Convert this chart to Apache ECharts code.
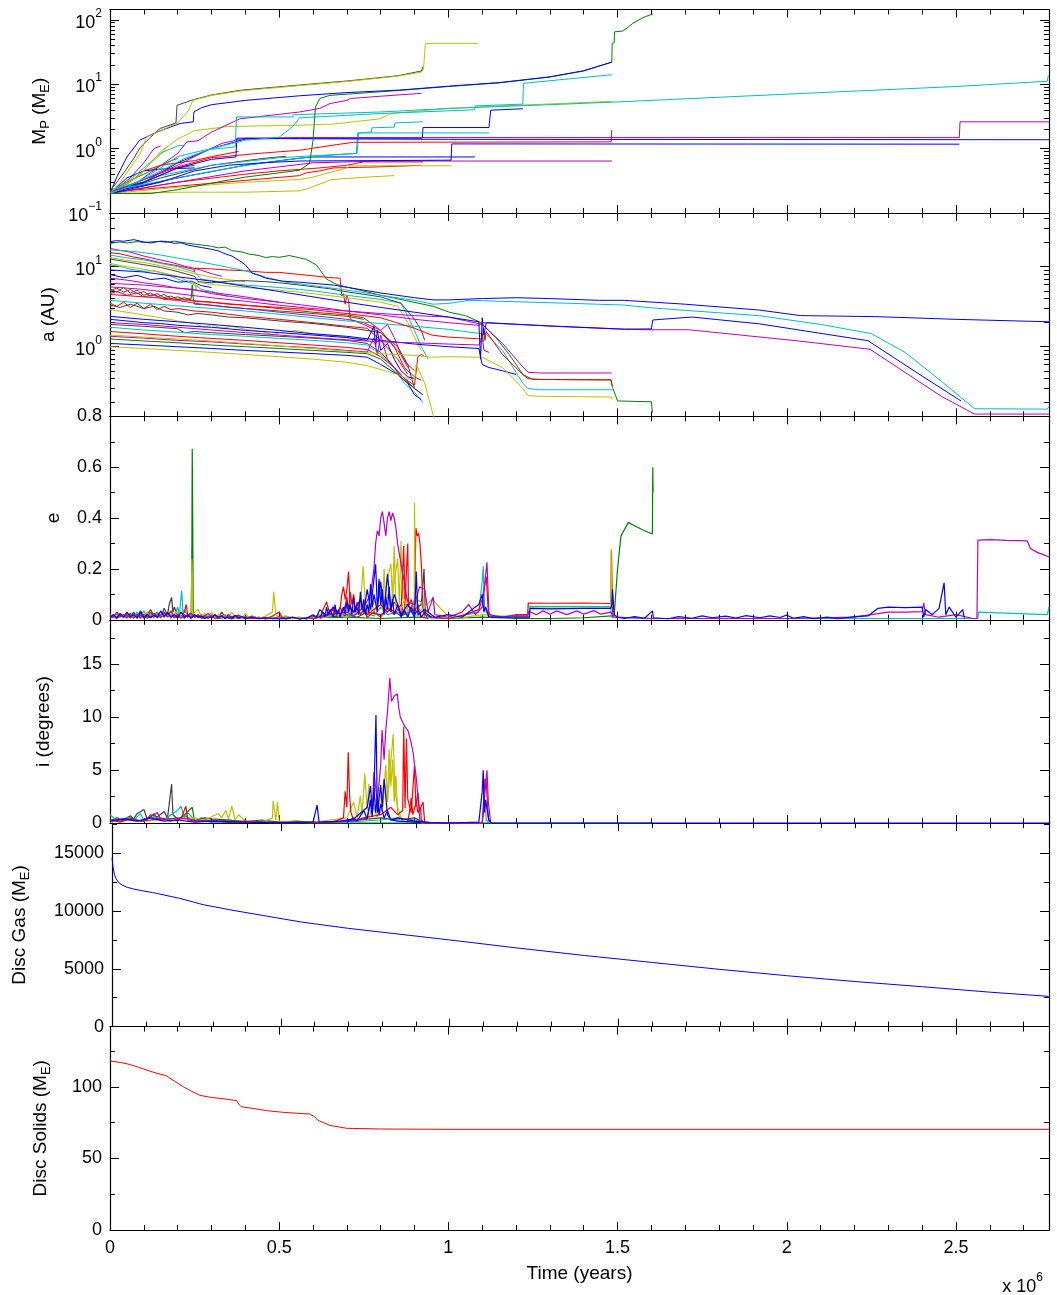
<!DOCTYPE html>
<html>
<head>
<meta charset="utf-8">
<script src="https://cdn.jsdelivr.net/npm/echarts@6/dist/echarts.min.js"></script>
<style>
  html, body { margin: 0; padding: 0; background: #ffffff; }
  #chart { width: 1057px; height: 1295px; }
</style>
</head>
<body>
<div id="chart"></div>
<script>
// Planet formation run: masses, orbits and disc reservoirs against time.
// Time values are in units of 10^6 years; every track is a flat list of (t, value) pairs.

// ---------- axis ticks ----------
const timeMajor = [0, 0.5, 1, 1.5, 2, 2.5];
const timeMinor = [0.1, 0.2, 0.3, 0.4, 0.6, 0.7, 0.8, 0.9, 1.1, 1.2, 1.3, 1.4, 1.6, 1.7, 1.8, 1.9, 2.1, 2.2, 2.3, 2.4, 2.6, 2.7];
const massDecades = [-1, 0, 1, 2];
const orbitDecades = [0, 1];
const eccTicks = [0, 0.2, 0.4, 0.6, 0.8];
const eccMinor = [0.1, 0.3, 0.5, 0.7];
const incTicks = [0, 5, 10, 15];
const incMinor = [2.5, 7.5, 12.5, 17.5];
const gasTicks = [0, 5000, 10000, 15000];
const gasMinor = [2500, 7500, 12500, 17500];
const solidTicks = [0, 50, 100];
const solidMinor = [25, 75, 125];

// ---------- planet masses (Earth masses) ----------
const massGrayS = [0,0.22, 0.1,0.3, 0.2,0.5, 0.25,0.55];
const massMagentaS = [0,0.2, 0.06,0.35, 0.1,0.6, 0.13,1.0, 0.15,1.1];
const massRedS = [0,0.22, 0.05,0.28, 0.1,0.45, 0.15,0.55, 0.2,0.6, 0.25,0.65, 0.3,0.75, 0.38,0.9];
const massGreenS = [0,0.22, 0.05,0.3, 0.1,0.4, 0.18,0.65, 0.2,0.7];
const massBlueS = [0,0.2, 0.05,0.35, 0.1,0.45, 0.15,0.48, 0.25,0.5];
const massYellowS = [0,0.22, 0.08,0.35, 0.12,0.6, 0.15,0.8, 0.17,1.1];
const massCyanS = [0,0.22, 0.05,0.3, 0.1,0.5, 0.15,0.85, 0.2,1.1, 0.22,1.12];
const massGray2 = [0,0.2, 0.15,0.35, 0.3,0.55, 0.45,0.7, 0.52,0.76];
const massYellow4 = [0,0.2, 0.2,0.21, 0.4,0.21, 0.56,0.22, 0.585,0.24, 0.635,0.3, 0.655,0.33, 0.76,0.36, 0.84,0.38];
const massRed3 = [0,0.21, 0.2,0.26, 0.4,0.32, 0.56,0.38, 0.58,0.42, 0.62,0.45, 0.66,0.5, 0.8,0.52, 0.92,0.55];
const massRed2 = [0,0.2, 0.2,0.3, 0.4,0.4, 0.5,0.45, 0.62,0.5, 0.7,0.55, 0.75,0.62, 0.925,0.62];
const massYellow3 = [0,0.2, 0.2,0.25, 0.4,0.3, 0.56,0.33, 0.6,0.36, 0.7,0.5, 0.71,0.54, 1.01,0.54];
const massBlue5 = [0,0.21, 0.2,0.35, 0.4,0.55, 0.55,0.7, 0.6,0.74, 1.078,0.74];
const massMagenta3 = [0,0.2, 0.2,0.3, 0.4,0.45, 0.6,0.6, 0.8,0.64, 1.483,0.64];
const massBlue4 = [0,0.2, 0.1,0.3, 0.2,0.6, 0.3,1.0, 0.4,1.4, 0.56,1.45, 0.923,1.45, 0.925,2.12, 1.12,2.12, 1.125,3.94, 1.22,4.15];
const massCyan4 = [0,0.2, 0.15,0.38, 0.3,0.55, 0.5,0.72, 0.65,0.8, 0.73,0.84, 0.735,1.75, 0.772,1.8, 0.774,2.1, 0.84,2.15, 0.842,2.5, 0.924,2.6];
const massCyan3 = [0,0.22, 0.2,0.35, 0.4,0.55, 0.6,0.75, 0.728,0.84, 0.732,1.75, 1.12,1.75];
const massRed1 = [0,0.2, 0.1,0.33, 0.2,0.52, 0.3,0.72, 0.45,0.85, 0.56,0.94, 0.62,1.05, 0.67,1.15, 0.72,1.25, 1.481,1.27, 1.483,1.95];
const massBlue3 = [0,0.2, 0.15,0.3, 0.25,0.45, 0.35,0.55, 0.45,0.6, 0.56,0.64, 1.008,0.66, 1.01,1.18, 2.51,1.17];
const massMagenta2 = [0,0.2, 0.1,0.33, 0.2,0.55, 0.28,0.9, 0.33,1.2, 0.4,1.45, 0.56,1.48, 2.51,1.48, 2.512,2.6, 2.775,2.6];
const massBlue2 = [0,0.22, 0.1,0.3, 0.2,0.5, 0.3,0.68, 0.372,0.74, 0.375,1.45, 0.56,1.42, 1.0,1.39, 2.775,1.37];
const massYellow2 = [0,0.2, 0.06,0.3, 0.1,0.45, 0.15,0.9, 0.2,1.4, 0.25,1.9, 0.35,2.2, 0.56,2.3, 0.66,2.4, 0.8,2.9, 0.83,3.5, 1.0,4.2, 1.2,4.7, 1.483,5.4];
const massMagenta1 = [0,0.21, 0.08,0.3, 0.14,0.5, 0.2,0.84, 0.227,1.27, 0.26,1.32, 0.3,1.8, 0.384,2.9, 0.5,3.4, 0.56,3.7, 0.62,4.2, 0.65,5.0, 0.7,5.6, 0.71,6.0, 0.8,6.5, 0.92,7.2];
const massCyanB = [0,0.22, 0.08,0.3, 0.15,0.45, 0.22,0.7, 0.3,1.0, 0.4,1.35, 0.5,1.5, 0.54,2.2, 0.56,3.0, 0.8,3.5, 1.077,4.0, 1.08,4.6, 1.22,4.9, 1.222,10.3, 1.35,12.0, 1.483,14.0];
const massCyanLong = [0,0.2, 0.05,0.25, 0.1,0.35, 0.15,0.5, 0.2,0.75, 0.28,0.95, 0.37,1.06, 0.374,3.1, 0.54,3.1, 0.542,3.35, 0.8,3.7, 1.0,4.2, 1.3,4.8, 1.5,5.3, 2.0,7.0, 2.5,9.2, 2.77,11.1, 2.773,13.8];
const massGreenGiant = [0,0.2, 0.12,0.2, 0.2,0.23, 0.3,0.29, 0.4,0.36, 0.5,0.42, 0.56,0.46, 0.59,0.59, 0.6,1.35, 0.607,4.4, 0.62,6.0, 0.65,6.7, 0.75,7.3, 0.856,8.0, 1.0,9.2, 1.152,10.5, 1.3,12.9, 1.4,16.0, 1.483,22, 1.484,43, 1.49,44, 1.491,65, 1.516,67, 1.53,76, 1.545,88, 1.575,108, 1.59,116, 1.605,123];
const massBlueGiant = [0,0.2, 0.02,0.36, 0.05,0.74, 0.088,1.35, 0.138,1.8, 0.207,2.45, 0.246,2.6, 0.248,3.7, 0.27,4.3, 0.3,4.8, 0.4,5.6, 0.56,6.6, 0.7,7.4, 0.856,8.1, 1.0,9.3, 1.152,10.6, 1.3,13.0, 1.4,16.2, 1.483,22];
const massGrayGiant = [0,0.22, 0.02,0.3, 0.045,0.45, 0.07,0.7, 0.09,1.05, 0.12,1.5, 0.148,2.05, 0.195,2.5, 0.198,4.7, 0.245,5.7, 0.3,6.8, 0.39,8.1, 0.56,9.7, 0.7,11.2, 0.85,13.5, 0.92,16.0, 0.925,18.5];
const massYellowGiant = [0,0.2, 0.03,0.3, 0.06,0.5, 0.09,0.85, 0.108,1.5, 0.15,1.9, 0.2,2.5, 0.232,3.9, 0.245,5.6, 0.3,6.7, 0.39,7.9, 0.56,9.5, 0.7,11.0, 0.85,13.3, 0.92,15.4, 0.926,17, 0.928,22, 0.932,43, 1.087,43];

const massTracks = [massGrayS, massMagentaS, massRedS, massGreenS, massBlueS, massYellowS, massCyanS, massGray2,
  massYellow4, massRed3, massRed2, massYellow3, massBlue5, massMagenta3, massBlue4, massCyan4, massCyan3, massRed1,
  massBlue3, massMagenta2, massBlue2, massYellow2, massMagenta1, massCyanB, massCyanLong, massGreenGiant,
  massBlueGiant, massGrayGiant, massYellowGiant];
const massColors = ['k','m','r','g','b','y','c','k', 'y','r','r','y','b','m','b','c','c','r', 'b','m','b','y','m','c','c','g', 'b','k','y'];

// ---------- semi-major axes (AU) ----------
const aMagentaTop = [0,17.0, 0.03,16.0, 0.06,15.2, 0.1,13.6, 0.14,12.4, 0.18,11.4, 0.22,10.2, 0.26,9.3, 0.3,8.2, 0.33,7.6];
const aCyanT2 = [0,10.5, 0.03,10.1, 0.06,9.3, 0.1,8.8, 0.13,8.9, 0.17,8.0, 0.2,7.0, 0.25,6.0, 0.27,5.2, 0.3,4.9, 0.35,4.2];
const aYellowT2 = [0,13.0, 0.05,12.0, 0.1,11.3, 0.15,10.3, 0.2,9.3, 0.25,8.2, 0.3,7.4, 0.35,6.9, 0.4,6.5];
const aBlueT2 = [0,8.0, 0.04,7.3, 0.08,7.8, 0.12,6.9, 0.16,7.2, 0.2,6.4, 0.24,6.6, 0.27,5.8, 0.3,5.5];
const aMagentaT2 = [0,7.2, 0.05,6.8, 0.1,6.3, 0.15,5.9, 0.2,5.4, 0.25,5.2, 0.3,4.6, 0.35,4.3, 0.4,4.0, 0.45,3.8, 0.5,3.6];
const aRedTop = [0,15.0, 0.03,14.5, 0.07,13.2, 0.1,12.6, 0.15,11.2, 0.2,10.3, 0.246,9.3, 0.25,8.7, 0.252,9.6, 0.3,9.4, 0.35,9.1, 0.4,8.9, 0.46,8.5, 0.5,8.5, 0.56,8.0, 0.6,7.7, 0.65,7.3, 0.68,7.2, 0.685,4.3, 0.69,4.6, 0.695,3.4, 0.7,4.4, 0.705,3.8, 0.71,2.2, 0.75,1.9, 0.8,1.5, 0.85,0.9, 0.88,0.6, 0.9,0.5];
const aCyanTop = [0,14.0, 0.05,12.9, 0.1,12.2, 0.15,11.0, 0.2,10.0, 0.25,8.6, 0.27,7.0, 0.3,6.7, 0.35,6.2, 0.4,5.9, 0.5,5.5, 0.56,5.2, 0.6,5.0, 0.7,4.4, 0.8,3.9, 0.86,3.5, 0.88,2.4, 0.9,1.6, 0.92,1.0, 0.94,0.7];
const aGrayTop = [0,12.5, 0.05,11.5, 0.1,10.6, 0.15,9.8, 0.2,8.7, 0.25,7.6, 0.26,6.5, 0.3,6.3, 0.35,6.6, 0.4,6.7, 0.46,6.5, 0.5,6.3, 0.56,5.9, 0.65,5.3, 0.68,5.0, 0.8,4.2, 0.86,3.5, 0.9,2.2, 0.92,1.6, 0.93,1.2];
const aYellowTop = [0,11.0, 0.05,10.0, 0.1,9.3, 0.15,8.5, 0.2,7.6, 0.25,6.0, 0.255,5.3, 0.26,6.4, 0.3,6.0, 0.4,5.5, 0.5,5.1, 0.56,4.8, 0.6,4.6, 0.7,4.1, 0.8,3.6, 0.85,3.2, 0.88,2.0, 0.9,1.3, 0.92,0.9];
const aRedMid = [0,5.0, 0.02,5.4, 0.04,4.8, 0.06,5.2, 0.08,4.6, 0.1,4.9, 0.12,4.3, 0.14,4.6, 0.16,4.1, 0.18,4.3, 0.2,3.9, 0.22,4.1, 0.25,3.7, 0.3,3.6, 0.35,3.4, 0.4,3.3, 0.5,3.0, 0.6,2.7, 0.7,2.5, 0.75,2.3, 0.8,1.6, 0.84,1.0, 0.87,0.55, 0.9,0.42, 0.92,0.38];
const aGreenMid = [0,5.3, 0.02,4.8, 0.04,5.5, 0.06,4.7, 0.08,5.1, 0.1,4.4, 0.12,4.7, 0.14,4.2, 0.16,4.5, 0.18,4.0, 0.2,4.2, 0.22,3.9, 0.24,4.0, 0.243,5.9, 0.246,4.0, 0.25,3.4, 0.3,3.3, 0.4,3.0, 0.5,2.8, 0.6,2.6, 0.7,2.4, 0.75,2.2];
const aMagentaMid = [0,4.6, 0.02,4.9, 0.05,4.4, 0.08,4.7, 0.1,4.2, 0.13,4.5, 0.16,3.9, 0.2,3.8, 0.25,3.5, 0.3,3.3, 0.35,3.1, 0.4,3.0, 0.45,2.85, 0.5,2.7, 0.6,2.45, 0.7,2.2, 0.75,2.0, 0.8,1.6, 0.82,1.9, 0.84,1.3, 0.86,0.8, 0.88,0.55];
const aRedLow = [0,3.5, 0.02,3.2, 0.04,3.6, 0.06,3.1, 0.08,3.5, 0.1,3.0, 0.12,3.4, 0.14,2.9, 0.16,3.2, 0.18,2.9, 0.2,3.0, 0.25,2.8, 0.3,2.7, 0.35,2.55, 0.4,2.4, 0.5,2.2, 0.6,2.0, 0.7,1.8, 0.76,1.7, 0.8,1.2, 0.85,0.7, 0.88,0.45];
const aGrayMid = [0,3.3, 0.03,3.1, 0.06,3.4, 0.1,3.0, 0.13,3.2, 0.16,2.8, 0.2,2.7, 0.23,2.5, 0.26,2.6, 0.3,2.5, 0.35,2.35, 0.4,2.3, 0.5,2.1, 0.6,1.95, 0.7,1.75, 0.8,1.5, 0.85,1.0, 0.88,0.6, 0.9,0.3, 0.925,0.25];
const aYellowMid = [0,2.9, 0.05,2.7, 0.1,2.5, 0.15,2.3, 0.2,2.1, 0.25,1.95, 0.28,1.75, 0.3,1.9, 0.33,1.7, 0.36,1.8, 0.4,1.65, 0.45,1.55, 0.48,1.4, 0.5,1.5, 0.55,1.6, 0.6,1.45, 0.65,1.4, 0.7,1.3, 0.75,1.25, 0.78,1.1, 0.8,1.2, 0.82,1.0, 0.85,0.7];
const aBlueLower = [0,2.2, 0.05,2.1, 0.1,2.0, 0.15,1.95, 0.2,1.85, 0.3,1.75, 0.4,1.6, 0.5,1.5, 0.6,1.4, 0.7,1.3, 0.76,1.2, 0.78,1.8, 0.785,1.0, 0.79,1.6, 0.8,0.9, 0.82,1.1, 0.84,0.7, 0.86,0.5, 0.88,0.42, 0.9,0.4];
const aGrayLow = [0,1.9, 0.1,1.8, 0.2,1.68, 0.22,1.5, 0.25,1.55, 0.3,1.5, 0.4,1.42, 0.5,1.35, 0.6,1.28, 0.7,1.2, 0.76,1.1, 0.8,0.85, 0.84,0.55, 0.87,0.4, 0.9,0.3, 0.92,0.26];
const aCyanLow = [0,1.75, 0.1,1.62, 0.2,1.52, 0.3,1.42, 0.4,1.35, 0.5,1.27, 0.6,1.2, 0.7,1.12, 0.76,1.05, 0.8,0.8, 0.84,0.55, 0.87,0.35, 0.9,0.27, 0.925,0.2];
const aRedLow2 = [0,1.55, 0.1,1.45, 0.2,1.35, 0.3,1.27, 0.4,1.2, 0.5,1.12, 0.6,1.05, 0.7,0.98, 0.76,0.92, 0.8,0.75, 0.84,0.55, 0.87,0.4, 0.9,0.33, 0.91,0.75, 0.92,0.8, 0.93,0.75];
const aMagentaLow2 = [0,1.35, 0.1,1.28, 0.2,1.2, 0.3,1.15, 0.4,1.08, 0.5,1.02, 0.6,0.97, 0.7,0.9, 0.76,0.86, 0.78,1.3, 0.79,0.8, 0.8,1.4, 0.82,0.7, 0.84,0.55, 0.86,0.42];
const aGreenLow = [0,1.25, 0.1,1.18, 0.2,1.12, 0.3,1.05, 0.4,1.0, 0.5,0.95, 0.6,0.9, 0.7,0.85, 0.76,0.82, 0.8,0.7, 0.84,0.5, 0.87,0.38, 0.9,0.3];
const aBlueLow3 = [0,1.1, 0.1,1.05, 0.2,1.0, 0.3,0.95, 0.4,0.9, 0.5,0.86, 0.6,0.82, 0.7,0.78, 0.76,0.74, 0.8,0.6, 0.85,0.45, 0.88,0.35, 0.9,0.25, 0.92,0.22];
const aYellowLow = [0,1.0, 0.1,0.95, 0.2,0.9, 0.3,0.85, 0.4,0.8, 0.5,0.75, 0.6,0.7, 0.7,0.64, 0.76,0.58, 0.8,0.52, 0.85,0.45, 0.88,0.4, 0.9,0.38, 0.905,0.6, 0.91,0.58, 0.93,0.35, 0.955,0.14, 0.96,0.12];
const aBlueLow = [0,2.4, 0.1,2.2, 0.2,2.05, 0.3,1.9, 0.4,1.75, 0.5,1.6, 0.6,1.45, 0.7,1.35, 0.8,1.2, 0.9,1.08, 1.0,1.0, 1.09,0.95, 1.1,0.6, 1.12,0.55, 1.16,0.5, 1.2,0.45];
const aMagentaLow = [0,2.0, 0.1,1.9, 0.2,1.75, 0.3,1.62, 0.4,1.5, 0.5,1.4, 0.6,1.3, 0.7,1.22, 0.8,1.15, 0.9,1.12, 1.0,1.08, 1.09,1.05, 1.1,1.3, 1.105,0.9, 1.12,0.85];
const aYellowFlat = [0,1.4, 0.1,1.32, 0.2,1.25, 0.3,1.18, 0.4,1.1, 0.5,1.02, 0.6,0.95, 0.7,0.88, 0.8,0.82, 0.9,0.78, 0.95,0.74, 1.0,0.75, 1.1,0.74, 1.16,0.55, 1.22,0.3, 1.235,0.245, 1.27,0.24, 1.483,0.235, 1.485,0.22];
const aCyanFlat = [0,3.8, 0.1,3.5, 0.2,3.25, 0.3,3.0, 0.4,2.8, 0.5,2.55, 0.6,2.3, 0.7,2.1, 0.8,1.95, 0.9,1.8, 1.0,1.65, 1.1,1.45, 1.104,1.15, 1.108,1.5, 1.16,0.9, 1.22,0.35, 1.235,0.3, 1.27,0.29, 1.483,0.29];
const aGreenTop = [0,19.6, 0.03,20.4, 0.05,19.8, 0.08,20.6, 0.1,20.1, 0.14,20.7, 0.17,20.2, 0.19,20.9, 0.23,19.6, 0.27,18.7, 0.3,18.0, 0.32,17.2, 0.34,17.6, 0.36,15.9, 0.39,15.3, 0.41,14.4, 0.44,13.8, 0.46,13.0, 0.48,13.4, 0.5,13.1, 0.53,13.8, 0.56,12.9, 0.58,12.4, 0.61,10.5, 0.64,7.0, 0.67,6.0, 0.8,4.4, 0.955,3.2, 1.004,2.69, 1.05,2.45, 1.096,2.01, 1.14,1.3, 1.18,0.8, 1.22,0.45, 1.25,0.39, 1.48,0.385, 1.485,0.31, 1.5,0.21, 1.6,0.205, 1.603,0.15];
const aRedFlat = [0,4.5, 0.1,4.2, 0.2,3.9, 0.3,3.6, 0.4,3.3, 0.5,3.1, 0.6,2.9, 0.7,2.6, 0.8,2.3, 0.9,1.7, 0.95,1.4, 1.0,1.32, 1.1,1.25, 1.103,1.7, 1.108,1.2, 1.112,1.55, 1.16,0.8, 1.22,0.45, 1.235,0.4, 1.27,0.39, 1.481,0.385, 1.483,0.34, 1.486,0.32];
const aMagFlat = [0,5.6, 0.1,5.2, 0.2,4.6, 0.3,4.1, 0.4,3.7, 0.5,3.3, 0.6,3.0, 0.7,2.8, 0.8,2.6, 0.9,2.45, 1.0,2.35, 1.1,1.9, 1.16,1.1, 1.22,0.56, 1.235,0.48, 1.27,0.47, 1.483,0.47];
const aMagentaLong = [0,6.2, 0.1,5.9, 0.2,5.4, 0.3,4.8, 0.4,4.2, 0.5,3.6, 0.6,3.2, 0.7,2.8, 0.8,2.5, 0.9,2.2, 1.0,2.0, 1.09,1.85, 1.1,2.0, 1.3,1.81, 1.52,1.65, 1.6,1.63, 1.71,1.63, 2.035,1.18, 2.246,0.93, 2.457,0.24, 2.555,0.144, 2.775,0.144];
const aBlueMid = [0,9.1, 0.1,8.6, 0.2,7.5, 0.3,6.6, 0.4,5.7, 0.5,4.9, 0.6,4.2, 0.7,3.6, 0.8,3.1, 0.9,2.7, 1.0,2.35, 1.09,2.05, 1.095,0.7, 1.1,2.3, 1.105,1.4, 1.112,2.0, 1.3,1.82, 1.52,1.66, 1.524,1.72, 1.6,1.67, 1.604,2.16, 1.72,2.35, 1.92,1.93, 2.24,1.19, 2.4,0.43, 2.515,0.21];
const aCyanLong = [0,16.2, 0.05,15.8, 0.1,15.0, 0.15,14.0, 0.2,12.8, 0.25,11.8, 0.3,10.8, 0.35,9.8, 0.4,8.9, 0.46,7.4, 0.52,6.4, 0.6,5.8, 0.7,5.1, 0.8,4.4, 0.9,3.8, 0.955,3.4, 1.004,3.49, 1.06,3.8, 1.2,3.65, 1.35,3.5, 1.518,3.32, 1.605,3.05, 1.92,2.44, 2.1,1.9, 2.25,1.46, 2.35,0.85, 2.457,0.37, 2.555,0.168, 2.77,0.166, 2.775,0.18];
const aBlueTop = [0,20.6, 0.02,21.2, 0.04,20.8, 0.07,21.8, 0.1,20.4, 0.12,19.8, 0.15,20.9, 0.17,20.6, 0.19,19.6, 0.21,19.9, 0.23,18.7, 0.25,18.0, 0.27,17.4, 0.3,16.5, 0.32,15.8, 0.34,14.5, 0.36,13.6, 0.38,12.1, 0.4,10.6, 0.42,8.3, 0.44,7.8, 0.46,7.2, 0.51,6.6, 0.56,6.4, 0.66,5.9, 0.8,4.7, 0.9,4.1, 0.955,3.85, 1.0,3.85, 1.1,4.0, 1.2,4.1, 1.3,4.0, 1.447,3.8, 1.52,3.8, 1.525,3.95, 1.7,3.4, 1.92,2.87, 2.04,2.45, 2.26,2.38, 2.5,2.2, 2.775,2.05];

const orbitTracks = [aMagentaTop, aCyanT2, aYellowT2, aBlueT2, aMagentaT2, aRedTop, aCyanTop, aGrayTop, aYellowTop,
  aRedMid, aGreenMid, aMagentaMid, aRedLow, aGrayMid, aYellowMid, aBlueLower, aGrayLow, aCyanLow, aRedLow2,
  aMagentaLow2, aGreenLow, aBlueLow3, aYellowLow, aBlueLow, aMagentaLow, aYellowFlat, aCyanFlat, aGreenTop,
  aRedFlat, aMagFlat, aMagentaLong, aBlueMid, aCyanLong, aBlueTop];
const orbitColors = ['m','c','y','b','m','r','c','k','y', 'r','g','m','r','k','y','b','k','c','r', 'm','g','b','y','b','m','y','c','g', 'r','m','m','b','c','b'];

// ---------- eccentricities ----------
const eGray = [0,0.012, 0.01,0.02, 0.02,0.008, 0.03,0.018, 0.04,0.01, 0.05,0.025, 0.06,0.01, 0.07,0.03, 0.08,0.012, 0.09,0.035, 0.1,0.015, 0.11,0.02, 0.12,0.04, 0.13,0.015, 0.14,0.03, 0.15,0.01, 0.16,0.045, 0.17,0.02, 0.175,0.06, 0.182,0.088, 0.186,0.03, 0.19,0.05, 0.2,0.015, 0.21,0.03, 0.22,0.01, 0.23,0.02, 0.24,0.008, 0.25,0.018, 0.26,0.01, 0.27,0.02, 0.28,0.006, 0.29,0.015, 0.3,0.008, 0.31,0.02, 0.32,0.01, 0.33,0.03, 0.34,0.012, 0.35,0.02, 0.36,0.006, 0.37,0.015, 0.38,0.005, 0.39,0.012, 0.4,0.006, 0.42,0.015, 0.44,0.005, 0.46,0.01, 0.48,0.004, 0.5,0.012, 0.52,0.004, 0.54,0.01, 0.56,0.003, 0.58,0.008, 0.6,0.004, 0.62,0.01, 0.65,0.015, 0.68,0.01, 0.7,0.02, 0.73,0.01, 0.76,0.03, 0.8,0.02, 0.83,0.04, 0.86,0.015, 0.9,0.04, 0.92,0.06, 0.928,0.2, 0.932,0.02, 0.94,0.005];
const eGreen = [0,0.01, 0.01,0.018, 0.02,0.006, 0.03,0.014, 0.04,0.02, 0.05,0.008, 0.06,0.016, 0.07,0.006, 0.08,0.022, 0.09,0.01, 0.1,0.018, 0.11,0.006, 0.12,0.014, 0.13,0.025, 0.14,0.008, 0.15,0.02, 0.16,0.01, 0.17,0.03, 0.18,0.01, 0.19,0.02, 0.2,0.008, 0.21,0.016, 0.22,0.006, 0.23,0.02, 0.24,0.01, 0.242,0.3, 0.243,0.673, 0.244,0.49, 0.246,0.02, 0.26,0.012, 0.28,0.005, 0.3,0.014, 0.32,0.004, 0.34,0.01, 0.36,0.003, 0.38,0.012, 0.4,0.004, 0.43,0.01, 0.46,0.003, 0.49,0.008, 0.52,0.003, 0.55,0.009, 0.58,0.003, 0.6,0.01, 0.62,0.015, 0.65,0.008, 0.7,0.01, 0.8,0.005, 0.9,0.01, 1.0,0.005, 1.1,0.01, 1.2,0.005, 1.3,0.005, 1.4,0.008, 1.483,0.015, 1.49,0.02, 1.5,0.2, 1.51,0.33, 1.532,0.383, 1.55,0.37, 1.58,0.35, 1.603,0.337, 1.604,0.6, 1.605,0.5];
const eCyan = [0,0.015, 0.01,0.008, 0.02,0.022, 0.03,0.01, 0.04,0.018, 0.05,0.006, 0.06,0.025, 0.07,0.01, 0.08,0.03, 0.09,0.012, 0.1,0.035, 0.11,0.01, 0.12,0.02, 0.13,0.008, 0.14,0.028, 0.15,0.012, 0.16,0.03, 0.17,0.01, 0.18,0.035, 0.19,0.015, 0.2,0.05, 0.205,0.02, 0.212,0.115, 0.216,0.02, 0.22,0.04, 0.23,0.012, 0.24,0.03, 0.25,0.01, 0.26,0.02, 0.27,0.008, 0.28,0.015, 0.29,0.005, 0.3,0.02, 0.31,0.008, 0.32,0.012, 0.33,0.004, 0.34,0.015, 0.35,0.006, 0.36,0.012, 0.38,0.005, 0.4,0.015, 0.42,0.006, 0.44,0.01, 0.46,0.004, 0.48,0.012, 0.5,0.005, 0.52,0.015, 0.54,0.006, 0.56,0.01, 0.58,0.004, 0.6,0.012, 0.62,0.02, 0.64,0.008, 0.66,0.02, 0.7,0.01, 0.75,0.03, 0.78,0.015, 0.8,0.05, 0.82,0.02, 0.85,0.03, 0.88,0.02, 0.9,0.08, 0.92,0.07, 0.93,0.01, 1.0,0.005, 1.09,0.03, 1.1,0.15, 1.103,0.21, 1.107,0.05, 1.12,0.01, 1.236,0.01, 1.238,0.053, 1.48,0.052, 1.482,0.01, 1.6,0.005, 2.565,0.005, 2.567,0.03, 2.65,0.026, 2.77,0.02, 2.775,0.05];
const eRed = [0,0.02, 0.01,0.01, 0.02,0.03, 0.03,0.012, 0.04,0.02, 0.05,0.008, 0.06,0.025, 0.07,0.01, 0.08,0.018, 0.09,0.006, 0.1,0.022, 0.11,0.01, 0.12,0.03, 0.13,0.012, 0.14,0.02, 0.15,0.008, 0.16,0.025, 0.17,0.012, 0.18,0.035, 0.19,0.01, 0.2,0.02, 0.21,0.012, 0.22,0.03, 0.225,0.06, 0.23,0.015, 0.24,0.03, 0.25,0.01, 0.26,0.02, 0.27,0.008, 0.28,0.018, 0.29,0.006, 0.3,0.015, 0.31,0.005, 0.32,0.012, 0.34,0.02, 0.35,0.006, 0.36,0.014, 0.38,0.005, 0.4,0.012, 0.42,0.004, 0.44,0.01, 0.46,0.004, 0.48,0.015, 0.5,0.03, 0.51,0.006, 0.52,0.012, 0.54,0.004, 0.56,0.01, 0.58,0.004, 0.6,0.015, 0.62,0.01, 0.63,0.04, 0.64,0.07, 0.65,0.02, 0.66,0.05, 0.67,0.02, 0.68,0.04, 0.685,0.1, 0.69,0.13, 0.695,0.08, 0.7,0.12, 0.705,0.19, 0.71,0.05, 0.72,0.03, 0.73,0.06, 0.75,0.05, 0.76,0.02, 0.78,0.04, 0.8,0.06, 0.82,0.03, 0.84,0.07, 0.85,0.05, 0.86,0.02, 0.868,0.29, 0.872,0.06, 0.88,0.06, 0.89,0.04, 0.9,0.05, 0.904,0.36, 0.908,0.33, 0.912,0.34, 0.916,0.3, 0.92,0.22, 0.925,0.05, 0.93,0.02, 0.95,0.01, 1.0,0.005, 1.05,0.02, 1.09,0.04, 1.1,0.08, 1.112,0.17, 1.118,0.03, 1.13,0.01, 1.2,0.015, 1.234,0.015, 1.236,0.066, 1.3,0.065, 1.4,0.066, 1.48,0.064, 1.482,0.27, 1.484,0.12, 1.486,0.01];
const eYellow = [0,0.01, 0.01,0.02, 0.02,0.008, 0.03,0.025, 0.04,0.012, 0.05,0.02, 0.06,0.006, 0.07,0.018, 0.08,0.01, 0.09,0.025, 0.1,0.012, 0.11,0.03, 0.12,0.01, 0.13,0.02, 0.14,0.008, 0.15,0.022, 0.16,0.01, 0.17,0.018, 0.18,0.006, 0.19,0.025, 0.2,0.03, 0.21,0.012, 0.22,0.02, 0.23,0.01, 0.24,0.02, 0.242,0.24, 0.244,0.02, 0.25,0.03, 0.26,0.04, 0.27,0.015, 0.28,0.025, 0.29,0.008, 0.3,0.03, 0.31,0.01, 0.32,0.02, 0.33,0.006, 0.34,0.022, 0.35,0.01, 0.36,0.03, 0.37,0.008, 0.38,0.02, 0.39,0.006, 0.4,0.025, 0.41,0.008, 0.42,0.015, 0.44,0.005, 0.46,0.015, 0.48,0.03, 0.484,0.11, 0.49,0.02, 0.5,0.008, 0.52,0.015, 0.54,0.004, 0.56,0.01, 0.58,0.004, 0.6,0.008, 0.62,0.02, 0.65,0.03, 0.68,0.015, 0.7,0.04, 0.72,0.02, 0.74,0.05, 0.748,0.21, 0.755,0.06, 0.77,0.03, 0.78,0.07, 0.8,0.1, 0.81,0.05, 0.82,0.16, 0.83,0.22, 0.835,0.08, 0.84,0.29, 0.845,0.05, 0.86,0.04, 0.87,0.08, 0.88,0.03, 0.899,0.05, 0.9,0.46, 0.902,0.1, 0.91,0.03, 0.93,0.05, 0.95,0.08, 0.96,0.07, 0.98,0.04, 1.0,0.015, 1.05,0.01, 1.1,0.02, 1.2,0.01, 1.236,0.01, 1.238,0.046, 1.48,0.046, 1.481,0.28, 1.483,0.05];
const eMagenta = [0,0.005, 0.01,0.015, 0.02,0.006, 0.03,0.02, 0.04,0.01, 0.05,0.018, 0.06,0.008, 0.07,0.022, 0.08,0.01, 0.09,0.02, 0.1,0.006, 0.11,0.018, 0.12,0.01, 0.13,0.025, 0.14,0.01, 0.15,0.02, 0.16,0.03, 0.17,0.012, 0.18,0.02, 0.19,0.008, 0.2,0.015, 0.21,0.006, 0.22,0.02, 0.23,0.01, 0.24,0.025, 0.25,0.008, 0.26,0.018, 0.27,0.006, 0.28,0.015, 0.29,0.025, 0.3,0.01, 0.31,0.018, 0.32,0.006, 0.33,0.015, 0.34,0.005, 0.35,0.02, 0.36,0.008, 0.38,0.018, 0.4,0.006, 0.42,0.012, 0.44,0.004, 0.46,0.01, 0.48,0.004, 0.5,0.012, 0.52,0.004, 0.54,0.01, 0.56,0.003, 0.58,0.008, 0.6,0.004, 0.62,0.012, 0.65,0.02, 0.7,0.03, 0.72,0.015, 0.75,0.05, 0.77,0.1, 0.78,0.2, 0.785,0.3, 0.79,0.35, 0.795,0.33, 0.8,0.4, 0.805,0.425, 0.81,0.38, 0.815,0.33, 0.82,0.4, 0.825,0.425, 0.83,0.39, 0.835,0.42, 0.84,0.4, 0.845,0.36, 0.85,0.3, 0.855,0.26, 0.86,0.22, 0.865,0.18, 0.87,0.15, 0.875,0.1, 0.88,0.07, 0.9,0.06, 0.915,0.13, 0.93,0.12, 0.94,0.03, 0.955,0.09, 0.96,0.02, 1.0,0.01, 1.04,0.03, 1.06,0.06, 1.08,0.02, 1.1,0.05, 1.114,0.226, 1.12,0.02, 1.16,0.01, 1.2,0.02, 1.236,0.02, 1.238,0.033, 1.26,0.02, 1.28,0.035, 1.3,0.022, 1.32,0.035, 1.35,0.02, 1.38,0.035, 1.4,0.022, 1.43,0.036, 1.45,0.022, 1.48,0.03, 1.49,0.01, 1.6,0.005, 2.0,0.005, 2.2,0.01, 2.25,0.02, 2.3,0.03, 2.35,0.03, 2.4,0.032, 2.405,0.066, 2.41,0.02, 2.45,0.01, 2.5,0.02, 2.55,0.005, 2.562,0.005, 2.565,0.313, 2.6,0.315, 2.65,0.312, 2.711,0.31, 2.72,0.28, 2.74,0.265, 2.76,0.255, 2.775,0.247];
const eBlue = [0,0.01, 0.01,0.02, 0.02,0.008, 0.03,0.025, 0.04,0.01, 0.05,0.03, 0.06,0.012, 0.07,0.02, 0.08,0.006, 0.09,0.03, 0.1,0.01, 0.11,0.022, 0.12,0.008, 0.13,0.018, 0.14,0.01, 0.15,0.035, 0.16,0.012, 0.17,0.028, 0.18,0.01, 0.19,0.02, 0.2,0.008, 0.21,0.03, 0.22,0.01, 0.23,0.018, 0.24,0.006, 0.25,0.02, 0.26,0.01, 0.27,0.015, 0.28,0.005, 0.29,0.012, 0.3,0.008, 0.31,0.02, 0.32,0.01, 0.33,0.015, 0.34,0.005, 0.35,0.012, 0.36,0.006, 0.37,0.018, 0.38,0.008, 0.39,0.012, 0.4,0.004, 0.42,0.01, 0.44,0.004, 0.46,0.008, 0.48,0.005, 0.5,0.003, 0.52,0.006, 0.54,0.01, 0.56,0.004, 0.58,0.006, 0.6,0.02, 0.61,0.008, 0.62,0.04, 0.64,0.015, 0.66,0.05, 0.68,0.02, 0.7,0.06, 0.72,0.03, 0.74,0.08, 0.75,0.03, 0.76,0.12, 0.77,0.04, 0.78,0.16, 0.785,0.218, 0.79,0.05, 0.8,0.15, 0.81,0.03, 0.82,0.18, 0.83,0.04, 0.84,0.1, 0.86,0.02, 0.88,0.06, 0.9,0.01, 0.905,0.19, 0.91,0.02, 0.93,0.04, 0.96,0.01, 1.0,0.02, 1.04,0.01, 1.07,0.04, 1.09,0.06, 1.1,0.1, 1.105,0.03, 1.11,0.05, 1.12,0.01, 1.2,0.01, 1.24,0.01, 1.241,0.045, 1.3,0.043, 1.4,0.045, 1.48,0.045, 1.483,0.06, 1.485,0.12, 1.49,0.02, 1.5,0.01, 1.52,0.005, 1.55,0.012, 1.58,0.006, 1.603,0.035, 1.606,0.008, 1.65,0.004, 1.68,0.012, 1.72,0.006, 1.75,0.015, 1.78,0.008, 1.82,0.014, 1.85,0.007, 1.88,0.016, 1.92,0.008, 1.95,0.015, 1.98,0.009, 2.0,0.018, 2.02,0.006, 2.05,0.012, 2.08,0.004, 2.12,0.01, 2.15,0.004, 2.2,0.012, 2.24,0.015, 2.27,0.045, 2.3,0.05, 2.35,0.048, 2.4,0.05, 2.405,0.01, 2.41,0.04, 2.43,0.02, 2.45,0.045, 2.465,0.145, 2.47,0.02, 2.48,0.05, 2.5,0.01, 2.52,0.04, 2.525,0.005];
const eYellow2 = [0.62,0.005, 0.66,0.02, 0.7,0.01, 0.72,0.04, 0.73,0.02, 0.75,0.06, 0.76,0.02, 0.77,0.09, 0.78,0.03, 0.79,0.06, 0.8,0.12, 0.805,0.04, 0.81,0.2, 0.815,0.06, 0.82,0.1, 0.83,0.05, 0.84,0.15, 0.85,0.24, 0.855,0.06, 0.86,0.31, 0.865,0.08, 0.87,0.18, 0.88,0.04, 0.9,0.02, 0.93,0.01];
const eRed2 = [0.62,0.005, 0.64,0.02, 0.66,0.04, 0.67,0.015, 0.68,0.05, 0.69,0.02, 0.7,0.09, 0.705,0.03, 0.71,0.11, 0.715,0.06, 0.72,0.1, 0.725,0.03, 0.73,0.07, 0.74,0.02, 0.75,0.04, 0.76,0.01, 0.78,0.03, 0.8,0.01, 0.82,0.05, 0.84,0.02, 0.86,0.06, 0.87,0.02, 0.88,0.3, 0.882,0.05, 0.89,0.08, 0.9,0.03, 0.91,0.06, 0.92,0.01, 0.94,0.005];
const eBlue2 = [0.62,0.01, 0.63,0.03, 0.635,0.01, 0.64,0.05, 0.645,0.02, 0.65,0.04, 0.66,0.01, 0.665,0.06, 0.67,0.02, 0.675,0.04, 0.68,0.01, 0.69,0.05, 0.695,0.02, 0.7,0.07, 0.705,0.03, 0.71,0.06, 0.715,0.02, 0.72,0.09, 0.725,0.03, 0.73,0.05, 0.735,0.02, 0.74,0.11, 0.745,0.04, 0.75,0.08, 0.755,0.02, 0.76,0.06, 0.765,0.03, 0.77,0.14, 0.775,0.05, 0.78,0.1, 0.79,0.03, 0.795,0.16, 0.8,0.06, 0.805,0.12, 0.81,0.02, 0.815,0.09, 0.82,0.04, 0.825,0.13, 0.83,0.03, 0.835,0.08, 0.84,0.02, 0.85,0.06, 0.86,0.01, 0.87,0.04, 0.88,0.01, 0.89,0.05, 0.9,0.02, 0.91,0.04, 0.92,0.01, 0.93,0.03, 0.95,0.01];

const eccTracks = [eGray, eGreen, eCyan, eYellow2, eRed2, eRed, eYellow, eMagenta, eBlue2, eBlue];
const eccColors = ['k','g','c','y','r','r','y','m','b','b'];

// ---------- inclinations (degrees) ----------
const iGray = [0,0.2, 0.02,0.5, 0.04,0.3, 0.06,0.7, 0.07,0.4, 0.08,0.9, 0.1,1.3, 0.11,0.4, 0.12,0.8, 0.14,0.6, 0.16,1.1, 0.17,0.5, 0.182,3.7, 0.186,0.8, 0.2,0.4, 0.22,0.7, 0.25,0.2, 0.28,0.5, 0.3,0.4, 0.35,0.3, 0.4,0.1, 0.5,0.05, 0.6,0.1, 0.7,0.2, 0.8,0.5, 0.85,0.3, 0.9,0.5, 0.93,0.0];
const iGreen = [0,0.3, 0.03,0.2, 0.06,0.5, 0.08,0.3, 0.1,0.2, 0.12,0.6, 0.13,0.9, 0.14,0.3, 0.17,0.5, 0.2,0.2, 0.22,0.8, 0.243,1.5, 0.25,0.2, 0.27,0.5, 0.3,0.1, 0.35,0.3, 0.4,0.15, 0.45,0.3, 0.5,0.1, 0.55,0.2, 0.6,0.1, 0.62,0.0, 1.6,0.0];
const iCyan = [0,0.8, 0.02,0.3, 0.05,0.5, 0.07,0.2, 0.08,0.6, 0.09,0.9, 0.1,0.3, 0.13,0.6, 0.16,0.3, 0.18,0.8, 0.2,1.2, 0.21,1.6, 0.22,0.5, 0.23,1.0, 0.25,0.3, 0.3,0.1, 0.4,0.1, 0.5,0.05, 0.6,0.05, 0.7,0.1, 0.8,0.3, 0.85,0.5, 0.9,0.3, 0.95,0.0, 1.1,0.0, 1.108,2.0, 1.112,0.3, 1.12,0.0];
const iYellow = [0,0.1, 0.03,0.4, 0.05,0.3, 0.1,0.2, 0.15,0.3, 0.2,0.4, 0.25,0.5, 0.28,0.3, 0.3,0.6, 0.32,0.9, 0.33,0.5, 0.342,1.2, 0.35,0.4, 0.36,1.6, 0.37,0.3, 0.38,0.8, 0.4,0.2, 0.45,0.1, 0.48,0.5, 0.482,2.1, 0.49,0.3, 0.495,2.0, 0.5,0.2, 0.55,0.1, 0.6,0.05, 0.65,0.3, 0.7,0.5, 0.72,2.0, 0.73,0.5, 0.74,2.6, 0.745,0.8, 0.753,4.7, 0.76,1.2, 0.765,3.7, 0.77,0.8, 0.78,2.5, 0.8,1.0, 0.81,4.0, 0.82,2.0, 0.83,5.9, 0.837,8.4, 0.842,3.0, 0.85,1.5, 0.86,0.5, 0.9,0.1, 0.93,0.0];
const iYellow2 = [0.76,0.2, 0.78,1.5, 0.79,0.5, 0.8,3.0, 0.805,1.2, 0.815,5.5, 0.82,2.0, 0.825,7.0, 0.83,3.5, 0.835,6.0, 0.84,2.0, 0.845,4.5, 0.85,1.0, 0.86,0.3, 0.88,0.1];
const iRed = [0,0.3, 0.03,0.1, 0.06,0.4, 0.09,0.2, 0.12,0.3, 0.15,0.5, 0.18,0.2, 0.21,0.4, 0.224,1.6, 0.23,0.3, 0.26,0.2, 0.3,0.3, 0.35,0.1, 0.4,0.2, 0.45,0.1, 0.5,0.05, 0.55,0.1, 0.6,0.05, 0.66,0.1, 0.69,0.5, 0.695,3.0, 0.7,1.5, 0.704,6.7, 0.708,2.7, 0.712,1.0, 0.72,0.3, 0.75,0.5, 0.8,0.8, 0.83,1.5, 0.85,0.8, 0.865,1.2, 0.868,9.1, 0.872,1.4, 0.876,8.0, 0.88,2.3, 0.89,1.0, 0.9,5.5, 0.904,1.5, 0.91,2.9, 0.915,1.2, 0.925,2.0, 0.93,0.1, 0.96,0.0, 1.1,0.0, 1.108,4.2, 1.112,3.8, 1.118,0.5, 1.125,0.0];
const iRed2 = [0.88,0.2, 0.885,1.0, 0.89,2.4, 0.895,0.8, 0.905,2.0, 0.91,1.0, 0.918,1.4, 0.92,0.3, 0.93,0.0];
const iMagenta = [0,0.2, 0.05,0.4, 0.1,0.2, 0.14,1.0, 0.15,0.3, 0.2,0.5, 0.25,0.3, 0.3,0.2, 0.35,0.1, 0.45,0.1, 0.55,0.05, 0.65,0.1, 0.72,0.2, 0.76,0.5, 0.77,2.0, 0.775,1.0, 0.78,4.8, 0.79,2.0, 0.8,5.5, 0.804,8.8, 0.81,6.0, 0.815,8.8, 0.82,10.5, 0.827,13.7, 0.832,11.5, 0.84,12.0, 0.849,12.2, 0.853,11.0, 0.858,10.0, 0.87,9.2, 0.881,8.7, 0.89,7.6, 0.896,6.6, 0.9,5.5, 0.905,4.3, 0.91,2.5, 0.916,0.2, 0.93,0.0, 1.1,0.0, 1.114,5.0, 1.118,2.0, 1.125,0.0];
const iBlue2 = [0.7,0.1, 0.72,0.5, 0.73,0.2, 0.75,1.2, 0.76,0.4, 0.77,2.2, 0.775,0.6, 0.78,3.3, 0.785,1.0, 0.79,2.5, 0.795,0.8, 0.8,1.8, 0.81,0.5, 0.82,1.2, 0.83,0.3, 0.85,0.2, 0.9,0.1, 0.92,0.0];
const iBlue = [0,0.2, 0.04,0.4, 0.08,0.2, 0.12,0.5, 0.16,0.2, 0.2,0.3, 0.25,0.1, 0.3,0.2, 0.4,0.1, 0.5,0.05, 0.6,0.1, 0.612,1.7, 0.618,0.1, 0.68,0.2, 0.72,0.4, 0.76,1.5, 0.77,3.5, 0.775,1.0, 0.78,2.8, 0.786,10.2, 0.79,1.0, 0.8,3.6, 0.805,1.5, 0.81,4.2, 0.82,0.8, 0.83,0.3, 0.85,0.5, 0.9,0.2, 0.95,0.05, 1.0,0.0, 1.09,0.1, 1.1,3.0, 1.103,5.0, 1.106,1.0, 1.11,2.2, 1.12,0.2, 1.13,0.0, 2.775,0.0];

const incTracks = [iGray, iGreen, iCyan, iYellow, iYellow2, iRed, iRed2, iMagenta, iBlue2, iBlue];
const incColors = ['k','g','c','y','y','r','r','m','b','b'];

// ---------- disc reservoirs (Earth masses) ----------
const gasTime = [0, 0.003, 0.007, 0.012, 0.02, 0.03, 0.045, 0.065, 0.09, 0.12, 0.16, 0.2, 0.27, 0.35, 0.45, 0.56, 0.7, 0.85, 1.0, 1.2, 1.4, 1.6, 1.8, 2.0, 2.2, 2.4, 2.6, 2.772, 2.775];
const gasMass = [14600, 13800, 13200, 12800, 12450, 12250, 12050, 11900, 11750, 11600, 11350, 11100, 10550, 10100, 9600, 9050, 8500, 8000, 7500, 6800, 6150, 5550, 4950, 4400, 3900, 3450, 2980, 2620, 2500];
const solidsTime = [0, 0.03, 0.06, 0.098, 0.13, 0.167, 0.19, 0.217, 0.24, 0.266, 0.3, 0.34, 0.374, 0.38, 0.388, 0.42, 0.463, 0.52, 0.59, 0.605, 0.615, 0.65, 0.7, 0.8, 1.0, 2.775];
const solidsMass = [118, 117, 115.5, 112.5, 110, 107.6, 104, 100, 97, 94, 92.5, 91.5, 90.3, 88, 86, 85, 83.3, 82, 81, 79, 76.5, 73, 71, 70.5, 70.3, 70.3];

// ---------- layout & styling ----------
const FONT = "'Liberation Sans', Arial, Helvetica, sans-serif";
const PALETTE = { b: '#0000ff', g: '#008000', r: '#ff0000', c: '#00bfbf', m: '#bf00bf', y: '#bfbf00', k: '#404040' };
const X_MAX = 2.775;
const PANEL_TOP = 9.5;
const PANEL_H = 203.42;
const TICK_FONT = 18;
const SUP_FONT = 12;
const NAME_FONT = 19;

function pairs(flat, fn) {
  const out = [];
  for (let k = 0; k < flat.length; k += 2) out.push([flat[k], fn ? fn(flat[k + 1]) : flat[k + 1]]);
  return out;
}
function zipped(xs, ys) { return xs.map((x, k) => [x, ys[k]]); }
function logMinor(lo, hi) {
  const out = [];
  for (let d = Math.floor(lo); d <= Math.floor(hi); d++) {
    for (let m = 2; m <= 9; m++) {
      const v = d + Math.log10(m);
      if (v > lo && v < hi) out.push(v);
    }
  }
  return out;
}
const powLabel = v => '{b|10}{s|' + (v < 0 ? '\u2212' + (-v) : v) + '}';
const plainLabel = v => String(v);

const panels = [
  { name: 'M{s|P} (M{s|E})', gap: 58, min: -1, max: 2.16, major: massDecades, minor: logMinor(-1, 2.16), fmt: powLabel, width: 1,
    series: massTracks.map((t, k) => ({ data: pairs(t, Math.log10), color: PALETTE[massColors[k]] })) },
  { name: 'a (AU)', gap: 49, min: -0.87, max: 1.6725, major: orbitDecades, minor: logMinor(-0.87, 1.6725), fmt: powLabel, width: 1,
    series: orbitTracks.map((t, k) => ({ data: pairs(t, Math.log10), color: PALETTE[orbitColors[k]] })) },
  { name: 'e', gap: 37, min: 0, max: 0.8, major: eccTicks, minor: eccMinor, fmt: plainLabel, width: 1.2,
    series: eccTracks.map((t, k) => ({ data: pairs(t), color: PALETTE[eccColors[k]] })) },
  { name: 'i (degrees)', gap: 54, min: 0, max: 19.2, major: incTicks, minor: incMinor, fmt: plainLabel, width: 1.2,
    series: incTracks.map((t, k) => ({ data: pairs(t), color: PALETTE[incColors[k]] })) },
  { name: 'Disc Gas (M{s|E})', gap: 80, min: 0, max: 17600, major: gasTicks, minor: gasMinor, fmt: plainLabel, width: 1,
    series: [{ data: zipped(gasTime, gasMass), color: PALETTE.b }] },
  { name: 'Disc Solids (M{s|E})', gap: 57, min: 0, max: 142, major: solidTicks, minor: solidMinor, fmt: plainLabel, width: 1,
    series: [{ data: zipped(solidsTime, solidsMass), color: PALETTE.r }] }
];

const grids = [], xAxes = [], yAxes = [], series = [];
const axisLineStyle = { color: '#000000', width: 1.2 };
const tickStyle = { color: '#000000', width: 1 };

panels.forEach((p, k) => {
  grids.push({ left: 110, right: 8, top: PANEL_TOP + k * PANEL_H, height: PANEL_H, containLabel: false });
  const last = k === panels.length - 1;

  // x axes: bottom/top, each with a major and a minor tick set
  [['bottom', timeMajor, 8, true], ['bottom', timeMinor, 5, false], ['top', timeMajor, 8, true], ['top', timeMinor, 5, false]]
    .forEach(([pos, vals, len, main]) => {
      const showLabel = last && pos === 'bottom' && main;
      xAxes.push({
        gridIndex: k, type: 'value', position: pos, min: 0, max: X_MAX,
        axisLine: { show: main, onZero: false, lineStyle: axisLineStyle },
        axisTick: { show: true, inside: true, length: len, lineStyle: tickStyle, customValues: vals },
        axisLabel: showLabel ? {
          show: true, customValues: timeMajor, formatter: plainLabel, margin: 9,
          color: '#000', fontSize: TICK_FONT, fontFamily: FONT
        } : { show: false },
        splitLine: { show: false },
        name: showLabel ? 'Time (years)' : '', nameLocation: 'middle', nameGap: 34,
        nameTextStyle: { color: '#000', fontSize: NAME_FONT, fontFamily: FONT }
      });
    });

  // y axes: left/right, each with a major and a minor tick set
  [['left', p.major, 9, true], ['left', p.minor, 5, false], ['right', p.major, 9, true], ['right', p.minor, 5, false]]
    .forEach(([pos, vals, len, main]) => {
      const showLabel = pos === 'left' && main;
      yAxes.push({
        gridIndex: k, type: 'value', position: pos, min: p.min, max: p.max,
        axisLine: { show: main, onZero: false, lineStyle: axisLineStyle },
        axisTick: { show: true, inside: true, length: len, lineStyle: tickStyle, customValues: vals },
        axisLabel: showLabel ? {
          show: true, customValues: p.major, formatter: p.fmt, margin: 8,
          color: '#000', fontSize: TICK_FONT, fontFamily: FONT,
          rich: {
            b: { fontSize: TICK_FONT, fontFamily: FONT, color: '#000', lineHeight: 24, verticalAlign: 'bottom' },
            s: { fontSize: SUP_FONT, fontFamily: FONT, color: '#000', lineHeight: 12, verticalAlign: 'top' }
          }
        } : { show: false },
        splitLine: { show: false },
        name: showLabel ? p.name : '', nameLocation: 'middle', nameGap: p.gap, nameRotate: 90,
        nameTextStyle: {
          color: '#000', fontSize: NAME_FONT, fontFamily: FONT, lineHeight: 24,
          rich: { s: { fontSize: 13, fontFamily: FONT, color: '#000', lineHeight: 14, verticalAlign: 'bottom' } }
        }
      });
    });

  p.series.forEach(s => {
    series.push({
      type: 'line', xAxisIndex: 4 * k, yAxisIndex: 4 * k, data: s.data,
      showSymbol: false, symbol: 'none', silent: true, clip: true,
      lineStyle: { width: p.width, color: s.color }, itemStyle: { color: s.color }
    });
  });
});

const chart = echarts.init(document.getElementById('chart'), null, { renderer: 'canvas' });
chart.setOption({
  backgroundColor: '#ffffff',
  animation: false,
  grid: grids,
  xAxis: xAxes,
  yAxis: yAxes,
  series: series,
  graphic: [{
    type: 'text', right: 14, top: 1272,
    style: {
      text: '{a|x 10}{s|6}', fill: '#000',
      rich: {
        a: { fontSize: TICK_FONT, fontFamily: FONT, fill: '#000', lineHeight: 24, verticalAlign: 'bottom' },
        s: { fontSize: SUP_FONT, fontFamily: FONT, fill: '#000', lineHeight: 12, verticalAlign: 'top' }
      }
    }
  }]
});
</script>
</body>
</html>
